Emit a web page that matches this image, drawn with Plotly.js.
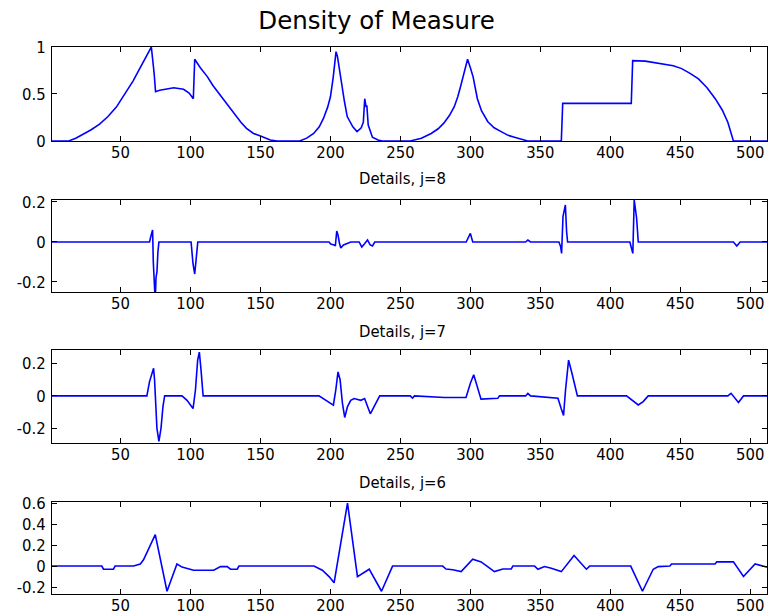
<!DOCTYPE html>
<html>
<head>
<meta charset="utf-8">
<script src="https://cdn.plot.ly/plotly-3.0.1.min.js"></script>
<style>html,body{margin:0;padding:0;background:#fff;}</style>
</head>
<body>
<div id="chart" style="width:773px;height:616px;"></div>
<script>
// Panel 1: density of measure
const densX = [1,13,18,23,29,35,41,47,53,59,63,67,70,72,74,75,78,81,88,95,99,102,103,107,112,116,121,126,131,136,140,145,150,157,162,178,183,188,192,195,198,200,202,204,205,206,207.5,210,212,216,219,222,223.5,224.5,225.5,226,227,230,234,237,257,265,272,277,281,285,288.5,291,293,296,298,300,302,305,308,312.5,317,322,327,331.5,339,341,365,366,415,416,425,432,439,445,451,457,463,469,475,480,484,488,512];
const densY = [0,0,0.03,0.07,0.12,0.18,0.26,0.36,0.5,0.64,0.75,0.86,0.93,1.0,0.72,0.525,0.54,0.55,0.567,0.55,0.51,0.45,0.87,0.78,0.685,0.59,0.49,0.39,0.295,0.2,0.135,0.08,0.053,0.01,0,0,0.03,0.08,0.15,0.24,0.36,0.47,0.68,0.95,0.9,0.8,0.65,0.42,0.26,0.15,0.1,0.14,0.2,0.45,0.36,0.38,0.17,0.04,0.01,0,0,0.03,0.08,0.13,0.19,0.27,0.365,0.47,0.58,0.75,0.87,0.78,0.68,0.45,0.32,0.205,0.14,0.1,0.06,0.04,0.01,0,0,0.4,0.4,0.855,0.85,0.835,0.82,0.8,0.77,0.72,0.66,0.57,0.45,0.33,0.2,0,0];

// Panel 2: details j=8
const det8X = [1,70.7,71.7,72.9,73.4,74.1,74.8,75.3,76,76.7,77.4,100.4,101.8,103,104.2,105.2,199,200.2,202.6,203.5,204.5,205.4,206.4,207.4,209.3,212.2,214.6,220.5,222.4,224.5,226.5,228.4,230,231.7,297,300,301.7,339.5,341.1,343,363.3,364.5,365.2,366.2,367.9,368.8,369.5,414,415.2,416.1,417.1,418.8,420,488,490.4,492.8,512];
const det8Y = [0,0,0.03,0.06,-0.1,-0.3,-0.3,-0.18,-0.15,-0.05,0,0,-0.11,-0.16,-0.08,0,0,-0.01,-0.015,-0.02,0.055,0.035,-0.005,-0.03,-0.015,-0.005,0,0,-0.025,-0.008,0.01,-0.015,-0.02,0,0,0.043,0,0,0.01,0,0,-0.023,-0.057,0.127,0.185,0.05,0,0,-0.03,-0.057,0.21,0.12,0,0,-0.02,0,0];

// Panel 3: details j=7
const det7X = [1,68.8,70.7,72.4,73.6,74.3,75,76,77.4,78.9,80.3,81.5,93.9,97.5,101.8,103.5,105.1,106.3,107.5,109,191.8,196.6,202.1,203.8,205.4,206.9,208.6,210.2,212.2,214.5,216.9,221.7,224.4,228.5,231.6,235.2,257,258.7,260,281.4,296.9,300,302.4,305.3,307.6,319.6,320.8,339.5,341.1,343,362.6,365,366.6,368,370.2,372.6,374.5,376.5,411.6,416.4,420,423.5,427.1,484,486.3,491.6,495.2,512];
const det7Y = [0,0,0.088,0.14,0.17,0.1,-0.066,-0.2,-0.28,-0.2,-0.066,0,0,-0.027,-0.078,0.035,0.22,0.27,0.16,0,0,-0.027,-0.057,0.035,0.148,0.1,-0.047,-0.133,-0.066,-0.027,-0.016,-0.027,-0.016,-0.11,-0.057,0,0,-0.014,0,-0.01,-0.01,0.078,0.13,0.04,-0.02,-0.015,0,0,0.016,0,-0.014,-0.08,-0.12,0.035,0.22,0.14,0.08,0,0,-0.035,-0.056,-0.035,0,0,0.016,-0.04,0,0];

// Panel 4: details j=6
const det6X = [1,36.6,37.8,44.9,46.1,59.3,64.1,66.4,74.8,83.2,90.3,93.9,102.2,116.6,121.4,126.2,128.6,133.4,134.6,188.2,194.2,199,202.6,212.2,219.3,227.7,236.5,244.4,280.2,282.6,287.4,293.4,301.7,307.7,317.2,323.2,329.2,330.4,345.9,348.3,353,357.8,365,374.1,382.9,385.3,414.6,423,430.7,434.3,442.6,443.8,474.9,476.1,488,495.2,503.5,507.1,512];
const det6Y = [0,0,-0.03,-0.03,0,0,0.02,0.06,0.3,-0.24,0.02,-0.01,-0.04,-0.04,-0.005,-0.005,-0.03,-0.03,0,0,-0.04,-0.1,-0.16,0.6,-0.1,-0.03,-0.24,0,0,-0.028,-0.035,-0.053,0.066,0.04,-0.053,-0.028,-0.028,0,0,-0.03,-0.005,-0.02,-0.053,0.1,-0.03,0,0,-0.24,-0.03,-0.005,0,0.02,0.02,0.04,0.04,-0.1,0.02,0.01,-0.01];

const xTicks = [50,100,150,200,250,300,350,400,450,500];
const yTicks1 = [0, 0.5, 1];
const yTicks1Text = ['0', '0.5', '1'];
const yTicksDet = [-0.2, 0, 0.2];
const yTicksDetText = ['-0.2', '0', '0.2'];
const yTicks6 = [-0.2, 0, 0.2, 0.4, 0.6];
const yTicks6Text = ['-0.2', '0', '0.2', '0.4', '0.6'];
const titleText = 'Density of Measure';
const panelLabels = ['Details, j=8', 'Details, j=7', 'Details, j=6'];

const tickFont = {family: '"DejaVu Sans Condensed", "Liberation Sans Narrow", "Liberation Sans", sans-serif', size: 16.5, color: '#000'};
const lineStyle = {color: '#0000ff', width: 1.6};

const traces = [
  {x: densX, y: densY, xaxis: 'x', yaxis: 'y'},
  {x: det8X, y: det8Y, xaxis: 'x2', yaxis: 'y2'},
  {x: det7X, y: det7Y, xaxis: 'x3', yaxis: 'y3'},
  {x: det6X, y: det6Y, xaxis: 'x4', yaxis: 'y4'}
].map(t => Object.assign(t, {type: 'scatter', mode: 'lines', line: lineStyle, hoverinfo: 'skip'}));

function xa(anchor) {
  return {anchor: anchor, domain: [0, 1], range: [1, 512], tickmode: 'array', tickvals: xTicks,
    ticktext: xTicks.map(String), ticklabelstandoff: -4,
    ticks: 'inside', ticklen: 5, tickcolor: '#000', showline: true, linecolor: '#000', linewidth: 1,
    mirror: 'ticks', showgrid: false, zeroline: false, tickfont: tickFont, fixedrange: true};
}
function ya(anchor, dom, rng, vals, txt) {
  return {anchor: anchor, domain: dom, range: rng, tickmode: 'array', tickvals: vals, ticktext: txt,
    ticklabelstandoff: 2,
    ticks: 'inside', ticklen: 5, tickcolor: '#000', showline: true, linecolor: '#000', linewidth: 1,
    mirror: 'ticks', showgrid: false, zeroline: false, tickfont: tickFont, fixedrange: true};
}

const labelX = (402.5 - 52) / 715;

const layout = {
  width: 773, height: 616,
  margin: {l: 52, r: 6, t: 47, b: 22},
  paper_bgcolor: '#fff', plot_bgcolor: '#fff',
  showlegend: false,
  title: {text: titleText, font: {family: '"DejaVu Sans", sans-serif', size: 24.5, color: '#000'},
    x: 376.5/773, xref: 'container', xanchor: 'center', y: 1 - 20/616, yref: 'container', yanchor: 'middle'},
  xaxis: xa('y'),
  yaxis: ya('x', [0.8282, 1.0], [0, 1], yTicks1, yTicks1Text),
  xaxis2: xa('y2'),
  yaxis2: ya('x2', [0.5521, 0.7203], [-0.25, 0.21], yTicksDet, yTicksDetText),
  xaxis3: xa('y3'),
  yaxis3: ya('x3', [0.2761, 0.4461], [-0.29, 0.283], yTicksDet, yTicksDetText),
  xaxis4: xa('y4'),
  yaxis4: ya('x4', [0, 0.1682], [-0.266, 0.61], yTicks6, yTicks6Text),
  annotations: [
    {text: panelLabels[0], xref: 'paper', yref: 'paper', x: labelX, y: (594-179)/547},
    {text: panelLabels[1], xref: 'paper', yref: 'paper', x: labelX, y: (594-331)/547},
    {text: panelLabels[2], xref: 'paper', yref: 'paper', x: labelX, y: (594-483)/547}
  ].map(a => Object.assign(a, {showarrow: false, xanchor: 'center', yanchor: 'middle', font: tickFont}))
};

Plotly.newPlot('chart', traces, layout, {staticPlot: true, displayModeBar: false});
</script>
</body>
</html>
